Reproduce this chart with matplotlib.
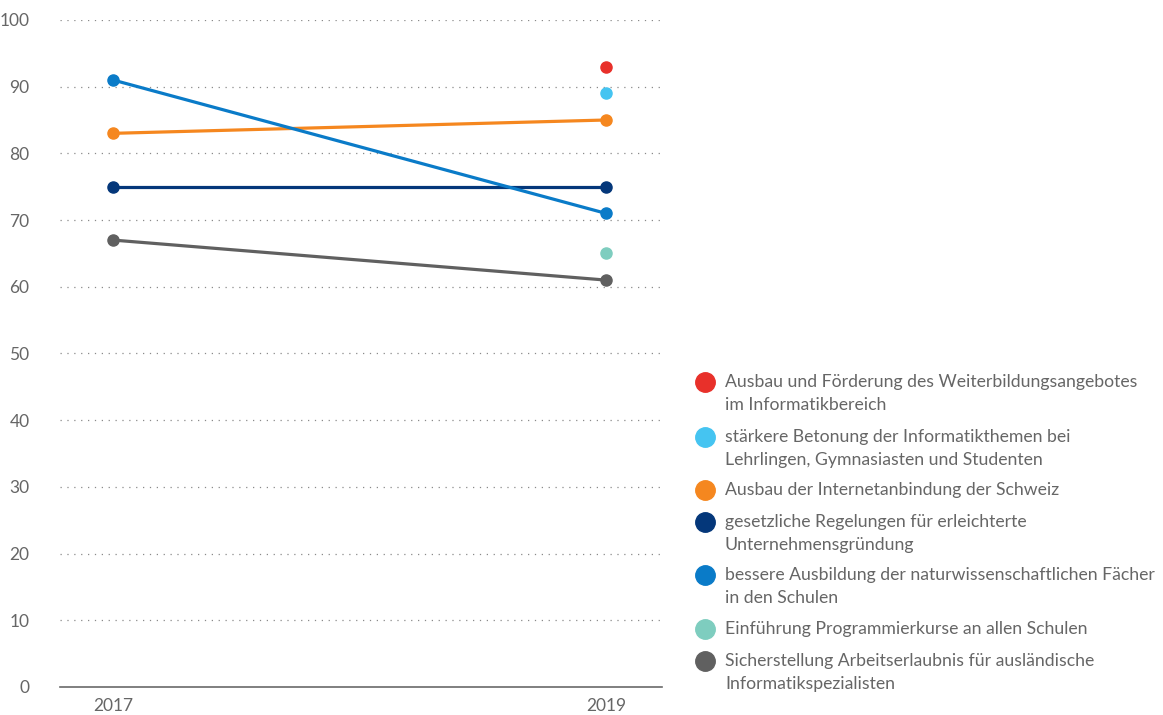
import matplotlib.pyplot as plt
import numpy as np
from matplotlib.lines import Line2D

plt.rcParams['font.family'] = ['Lato', 'DejaVu Sans']

years = ['2017', '2019']
labels = [
    'Ausbau und Förderung des Weiterbildungsangebotes\nim Informatikbereich',
    'stärkere Betonung der Informatikthemen bei\nLehrlingen, Gymnasiasten und Studenten',
    'Ausbau der Internetanbindung der Schweiz',
    'gesetzliche Regelungen für erleichterte\nUnternehmensgründung',
    'bessere Ausbildung der naturwissenschaftlichen Fächer\nin den Schulen',
    'Einführung Programmierkurse an allen Schulen',
    'Sicherstellung Arbeitserlaubnis für ausländische\nInformatikspezialisten',
]
colors = ['#e8302a', '#45c4f1', '#f5871f', '#04377a', '#0a7bc8', '#7ecdbf', '#606060']
# None = no value for that year
values = [
    [None, 93],
    [None, 89],
    [83, 85],
    [75, 75],
    [91, 71],
    [None, 65],
    [67, 61],
]

fig = plt.figure(figsize=(11.63, 7.15), dpi=100)
ax = fig.add_axes([0.0516, 0.0392, 0.5176, 0.9329])

x = np.arange(len(years))
for vals, c in zip(values, colors):
    xs = [xi for xi, v in zip(x, vals) if v is not None]
    ys = [v for v in vals if v is not None]
    ax.plot(xs, ys, color=c, lw=2.3, marker='o', ms=8, solid_capstyle='round', zorder=3)

ax.set_xlim(-0.1075, 1.1136)
ax.set_ylim(0, 100)
ax.set_yticks(np.arange(0, 101, 10))
ax.set_xticks(x)
ax.set_xticklabels(years)
for yv in range(10, 101, 10):
    ax.axhline(yv, color='#8a8a8a', lw=0.9, ls=(0, (1, 4.5)), zorder=1)
for s in ['top', 'right', 'left']:
    ax.spines[s].set_visible(False)
ax.spines['bottom'].set_color('#6a6a6a')
ax.spines['bottom'].set_linewidth(1.2)
ax.tick_params(length=0, labelsize=12.5, labelcolor='#666666')
ax.tick_params(axis='y', pad=22)
ax.tick_params(axis='x', pad=8)

# legend, drawn by hand
rows = [382, 437, 490, 522, 575, 629, 661]
W, H = 1163, 715
for lab, c, r in zip(labels, colors, rows):
    fig.add_artist(Line2D([705 / W], [1 - r / H], marker='o', ms=14, color=c, lw=0,
                          transform=fig.transFigure))
    fig.text(725 / W, 1 - (r - 8) / H, lab, fontsize=12.7, color='#666666',
             va='top', ha='left', linespacing=1.55)

fig.savefig('out.png', dpi=100)
